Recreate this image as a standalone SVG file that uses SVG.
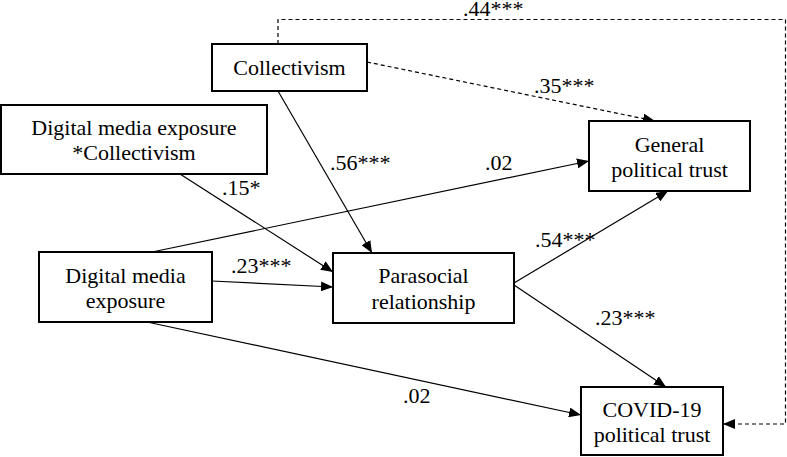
<svg xmlns="http://www.w3.org/2000/svg" width="787" height="457" viewBox="0 0 787 457">
<defs>
<style>
.box{fill:#fff;stroke:#000;stroke-width:2}
.t{font-family:"Liberation Serif","Times New Roman",serif;font-size:22px;fill:#000;text-anchor:middle}
.l{font-family:"Liberation Serif","Times New Roman",serif;font-size:22px;fill:#000}
.c{fill:none;stroke:#000;stroke-width:1.2}
.d{fill:none;stroke:#000;stroke-width:1.2;stroke-dasharray:4 3}
</style>
<marker id="ah" viewBox="0 0 12 10" refX="12" refY="5" markerWidth="12" markerHeight="10" markerUnits="userSpaceOnUse" orient="auto">
<path d="M0,0 L12,5 L0,10 Z" fill="#000"/>
</marker>
</defs>
<rect width="787" height="457" fill="#fff"/>
<g id="connectors">
<line class="c" x1="278" y1="91" x2="372" y2="253" marker-end="url(#ah)"/>
<line class="c" x1="180" y1="174" x2="333" y2="272" marker-end="url(#ah)"/>
<line class="c" x1="212" y1="281" x2="333" y2="287" marker-end="url(#ah)"/>
<line class="c" x1="152" y1="252" x2="589" y2="161" marker-end="url(#ah)"/>
<line class="c" x1="147" y1="322" x2="581" y2="415" marker-end="url(#ah)"/>
<line class="c" x1="514" y1="283" x2="668" y2="191" marker-end="url(#ah)"/>
<line class="c" x1="514" y1="285" x2="666" y2="387" marker-end="url(#ah)"/>
<line class="d" x1="367" y1="62" x2="655" y2="121" marker-end="url(#ah)"/>
<path class="d" d="M278,44 V19.5 H785.5 V424 H723" marker-end="url(#ah)"/>
<text class="l" x="463" y="16">.44***</text>
<text class="l" x="534" y="93">.35***</text>
<text class="l" x="330" y="170">.56***</text>
<text class="l" x="222" y="195">.15*</text>
<text class="l" x="485" y="170">.02</text>
<text class="l" x="231" y="273">.23***</text>
<text class="l" x="535" y="247">.54***</text>
<text class="l" x="595" y="325">.23***</text>
<text class="l" x="403" y="403">.02</text>
</g>
<g id="collectivism">
<rect class="box" x="212" y="44" width="155" height="47"/>
<text class="t" x="289.5" y="75">Collectivism</text>
</g>
<g id="interaction">
<rect class="box" x="1" y="105" width="266" height="69"/>
<text class="t" x="134" y="135">Digital media exposure</text>
<text class="t" x="134" y="160">*Collectivism</text>
</g>
<g id="dme">
<rect class="box" x="39" y="252" width="173" height="70"/>
<text class="t" x="125.5" y="283">Digital media</text>
<text class="t" x="125.5" y="308">exposure</text>
</g>
<g id="parasocial">
<rect class="box" x="333" y="253" width="181" height="70"/>
<text class="t" x="423.5" y="283">Parasocial</text>
<text class="t" x="423.5" y="309">relationship</text>
</g>
<g id="general">
<rect class="box" x="589" y="121" width="161" height="70"/>
<text class="t" x="669.5" y="152">General</text>
<text class="t" x="669.5" y="177">political trust</text>
</g>
<g id="covid">
<rect class="box" x="581" y="387" width="142" height="68"/>
<text class="t" x="652" y="417">COVID-19</text>
<text class="t" x="652" y="442">political trust</text>
</g>
</svg>
